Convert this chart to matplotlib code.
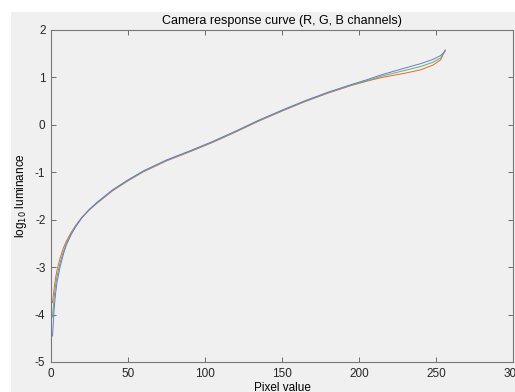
import matplotlib
matplotlib.use('Agg')
import matplotlib.pyplot as plt
from matplotlib.patches import Rectangle

plt.rcParams['font.family'] = ['Liberation Sans', 'DejaVu Sans']
plt.rcParams['axes.unicode_minus'] = False

pixel = [1, 2, 3, 4, 6, 8, 10, 13, 16, 20, 25, 30, 40, 50, 60, 75, 90, 105,
         120, 135, 150, 165, 180, 195, 205, 215, 230, 240, 248, 253, 256]

# log10 luminance per channel
red = [-3.75, -3.45, -3.22, -3.05, -2.80, -2.60, -2.45, -2.27, -2.12, -1.95,
       -1.79, -1.65, -1.39, -1.18, -0.99, -0.76, -0.57, -0.37,
       -0.15, 0.08, 0.29, 0.49, 0.67, 0.83, 0.92, 1.00, 1.09, 1.16, 1.26, 1.37, 1.58]
green = [-4.05, -3.65, -3.38, -3.18, -2.90, -2.68, -2.50, -2.30, -2.14, -1.96,
         -1.78, -1.64, -1.38, -1.17, -0.98, -0.75, -0.56, -0.36,
         -0.14, 0.09, 0.30, 0.50, 0.68, 0.84, 0.93, 1.03, 1.15, 1.23, 1.32, 1.41, 1.57]
blue = [-4.45, -3.90, -3.55, -3.30, -2.98, -2.73, -2.53, -2.32, -2.15, -1.96,
        -1.78, -1.63, -1.37, -1.16, -0.97, -0.74, -0.55, -0.35,
        -0.13, 0.10, 0.31, 0.51, 0.69, 0.85, 0.95, 1.06, 1.20, 1.29, 1.38, 1.46, 1.56]

fig = plt.figure(figsize=(5.15, 3.92), dpi=100, facecolor='white')
# gray figure area (white strip on the left and top)
fig.patches.append(Rectangle((11 / 515, 0), 1, 1 - 12 / 392, transform=fig.transFigure,
                             facecolor='#f0f0f0', edgecolor='none', zorder=-10))

ax = fig.add_axes([51 / 515, 1 - 362 / 392, 462 / 515, 332 / 392])
ax.set_zorder(5)
ax.set_facecolor('#f0f0f0')

ax.plot(pixel, red, color='#e8643c', lw=0.7)
ax.plot(pixel, green, color='#5cb85c', lw=0.7)
ax.plot(pixel, blue, color='#6a78d8', lw=0.7)

ax.set_xlim(0, 300)
ax.set_ylim(-5, 2)
ax.set_xticks(range(0, 301, 50))
ax.set_yticks(range(-5, 3))
ax.tick_params(direction='in', top=True, right=True, length=3.5, width=0.6,
               color='#555555', labelsize=8.5, labelcolor='#262626', pad=4)
for s in ax.spines.values():
    s.set_color('#777777')
    s.set_linewidth(0.8)

ax.set_title('Camera response curve (R, G, B channels)', fontsize=9, pad=4)
ax.set_xlabel('Pixel value', fontsize=8.5, labelpad=2)
ax.set_ylabel(r'log$_{10}$ luminance', fontsize=8.5, labelpad=4)

fig.savefig('out.png', dpi=100, facecolor=fig.get_facecolor())
